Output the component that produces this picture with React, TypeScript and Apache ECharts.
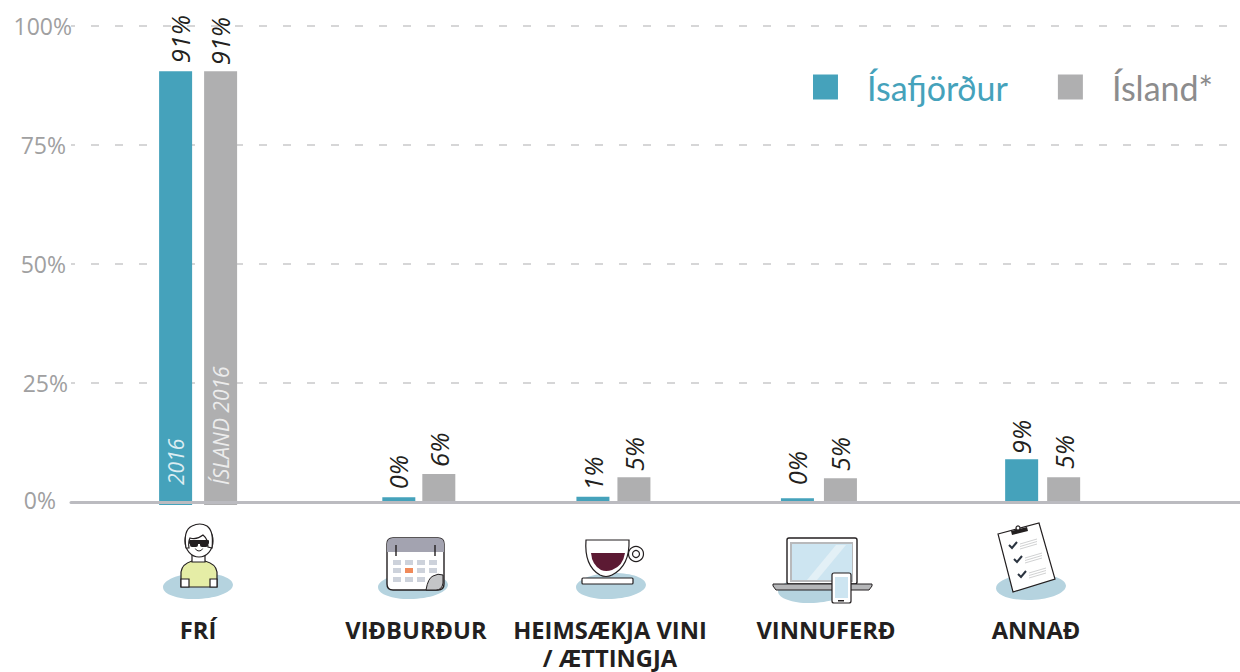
import React, { useEffect, useRef } from "react";
import * as echarts from "echarts";

const categories = ["FRÍ", "VIÐBURÐUR", "HEIMSÆKJA VINI\n/ ÆTTINGJA", "VINNUFERÐ", "ANNAÐ"];
const isafjordurValues = [90.5, 1.0, 1.1, 0.8, 9.0];
const islandValues = [90.5, 5.9, 5.2, 5.0, 5.2];
const isafjordurLabels = ["91%", "0%", "1%", "0%", "9%"];
const islandLabels = ["91%", "6%", "5%", "5%", "5%"];
const yTicks = [0, 25, 50, 75, 100];

// layout only (pixels relative to each category's slot on the x scale)
const tealShift = [-22, -9.8, -26.7, -33.2, -20];
const greyShift = [23, 30.2, 14.3, 9.8, 22];
const tealLabelNudge = [4, -1, 0, 0, -1];
const greyLabelNudge = [-1, 0, 0, 0, 0];
const tealLabelGap = [8, 8, 6, 13, 5];
const greyLabelGap = [6, 7, 6, 7, 8];
const labelCenters = [198, 416, 610, 826, 1036];

const TEAL = "#45a2bb";
const GREY = "#afafb0";
const INK = "#231f20";
const POOL = "#b5d3df";
const BODY_FONT = "'Open Sans', sans-serif";

const shapes: Record<string, string> = {
  rkTorso: "M181 587 L181 572 Q182 564 192 561 L205 561 Q216 564 217 572 L217 587 Z",
  rkHair: "M186 548 Q183 530 192 526 Q200 522 207 526 Q214 531 212 548 L208 547 Q208 539 203 535 Q197 540 190 538 Q188 542 189 548 Z",
  rkCup: "M586 540 L629 540 Q630 566 612 575 Q606 578 600 575 Q584 566 586 540 Z",
  rkWine: "M591 553 L625 553 Q623 566 612 570 Q606 572 601 570 Q592 565 591 553 Z",
  rkCurl: "M426 590 Q428 578 433 576 Q438 573 443 575 L443 583 Q442 590 436 590 Z",
  rkCalBody: "M393 538 L438 538 Q444 538 444 544 L444 584 Q444 590 438 590 L393 590 Q387 590 387 584 L387 544 Q387 538 393 538 Z",
  rkCalHead: "M393 538 L438 538 Q444 538 444 544 L444 552 L387 552 L387 544 Q387 538 393 538 Z",
  rkBase: "M773 584 L872 584 L872 586 L869 590 L776 590 L773 586 Z",
  rkGlare: "M807 580 L836 545 L846 545 L817 580 Z",
};
Object.keys(shapes).forEach((k) => {
  echarts.graphic.registerShape(k, echarts.graphic.extendPath(shapes[k], {}));
});

const stroke = { stroke: INK, lineWidth: 1.2 };
const pool = (cx: number, cy: number) => ({
  type: "ellipse", x: cx, y: cy, rotation: 0.04,
  shape: { cx: 0, cy: 0, rx: 35, ry: 13 }, style: { fill: POOL }, silent: true,
});
const rect = (x: number, y: number, w: number, h: number, style: any, r = 0) => ({
  type: "rect", shape: { x, y, width: w, height: h, r }, style,
});
const circle = (cx: number, cy: number, r: number, style: any) => ({
  type: "circle", shape: { cx, cy, r }, style,
});
const line = (x1: number, y1: number, x2: number, y2: number, style: any) => ({
  type: "line", shape: { x1, y1, x2, y2 }, style,
});
const custom = (type: string, style: any) => ({ type, style });

function personIcon() {
  return [
    pool(198, 586),
    custom("rkTorso", { fill: "#e5eda6", ...stroke }),
    rect(181, 579, 8, 8, { fill: "#fff", ...stroke }),
    rect(210, 579, 7, 8, { fill: "#fff", ...stroke }),
    rect(192, 552, 13, 10, { fill: "#fff", ...stroke }),
    { type: "ellipse", shape: { cx: 199, cy: 541, rx: 14, ry: 16 }, style: { fill: "#fff", ...stroke } },
    custom("rkHair", { fill: "#fff", ...stroke }),
    rect(189, 540, 20, 4, { fill: INK }, 1),
    rect(190, 541, 8, 6, { fill: INK }, 2),
    rect(200, 541, 8, 6, { fill: INK }, 2),
    { type: "arc", shape: { cx: 199, cy: 547, r: 4, startAngle: 0.4, endAngle: 2.74 }, style: { stroke: INK, lineWidth: 1, fill: "none" } },
  ];
}

function calendarIcon() {
  const out: any[] = [pool(413, 586), custom("rkCalBody", { fill: "#fff", stroke: INK, lineWidth: 1.4 }), custom("rkCalHead", { fill: "#a3a3b0" })];
  const xs = [393, 405, 417, 429];
  const ys = [560, 568, 577];
  ys.forEach((y, r) => xs.forEach((x, c) => {
    if (r === 2 && c === 3) return;
    out.push(rect(x, y, 8, 5, { fill: r === 1 && c === 1 ? "#f08a5a" : "#cdd2db" }));
  }));
  out.push(line(396, 545, 396, 556, { stroke: INK, lineWidth: 1.4 }));
  out.push(line(435, 545, 435, 556, { stroke: INK, lineWidth: 1.4 }));
  out.push(custom("rkCurl", { fill: "#c4c5c7", stroke: INK, lineWidth: 1 }));
  return out;
}

function cupIcon() {
  return [
    pool(611, 586),
    circle(636, 554, 7.5, { fill: "#fff", ...stroke }),
    circle(636, 554, 3.5, { fill: "#fff", ...stroke }),
    custom("rkCup", { fill: "#fff", ...stroke }),
    custom("rkWine", { fill: "#5c1a33" }),
    rect(582, 578, 51, 6, { fill: "#fff", ...stroke }, 1),
  ];
}

function laptopIcon() {
  return [
    pool(813, 590),
    rect(787, 538, 70, 46, { fill: "#fff", stroke: INK, lineWidth: 1.4 }, 2),
    rect(790, 542, 63, 40, { fill: "#b8b9bb" }),
    rect(792, 544, 60, 36, { fill: "#cde5f1" }),
    custom("rkGlare", { fill: "#e3f0f6" }),
    custom("rkBase", { fill: "#b5b6b8", stroke: INK, lineWidth: 1 }),
    rect(832, 573, 19, 30, { fill: "#fff", stroke: INK, lineWidth: 1.2 }, 2),
    rect(835, 577, 13, 21, { fill: "#cde5f1" }),
    rect(838, 600, 6, 1.5, { fill: INK }),
  ];
}

function clipboardIcon() {
  const out: any[] = [
    pool(1031, 587),
    { type: "polygon", shape: { points: [[998, 534], [1039, 523], [1055, 579], [1013, 592]] }, style: { fill: "#fff", stroke: INK, lineWidth: 1.2 } },
    { type: "polygon", shape: { points: [[1011, 531], [1027, 527], [1028, 531], [1012, 535]] }, style: { fill: INK } },
    circle(1018, 528, 2, { fill: "#fff", ...stroke }),
  ];
  [[1012, 546], [1017, 560], [1021, 575]].forEach(([x, y]) => {
    out.push({ type: "polyline", shape: { points: [[x - 3, y - 1], [x, y + 2], [x + 5, y - 4]] }, style: { stroke: "#2b3440", lineWidth: 2, fill: "none" } });
    [0, 1, 2].forEach((i) => {
      out.push(line(x + 8, y - 2 + i * 2.5, x + 25, y - 7 + i * 2.5, { stroke: "#c4c5c7", lineWidth: 0.8 }));
    });
  });
  return out;
}

function barSeries(
  name: string,
  color: string,
  values: number[],
  labels: string[],
  shift: number[],
  nudge: number[],
  gap: number[],
  inside: string,
  insideColor: string,
) {
  return {
    type: "custom",
    name,
    itemStyle: { color },
    data: values.map((v, i) => [i, v]),
    encode: { x: 0, y: 1 },
    clip: false,
    z: 3,
    renderItem: (_p: any, api: any) => {
      const i = api.value(0);
      const [cx, top] = api.coord([i, api.value(1)]);
      const base = api.coord([i, 0])[1];
      const bx = cx + shift[i];
      const overshoot = i === 0 ? 3 : 0;
      const children: any[] = [
        {
          type: "rect",
          shape: { x: bx - 16.5, y: top, width: 33, height: base - top + overshoot },
          style: { fill: color },
        },
        {
          type: "text",
          x: bx + nudge[i],
          y: top - gap[i],
          rotation: Math.PI / 2,
          style: {
            text: labels[i],
            textAlign: "left",
            textVerticalAlign: "middle",
            fill: INK,
            font: `italic 400 25.5px ${BODY_FONT}`,
          },
        },
      ];
      if (i === 0) {
        children.push({
          type: "text",
          x: bx,
          y: base - 17,
          rotation: Math.PI / 2,
          style: {
            text: inside,
            textAlign: "left",
            textVerticalAlign: "middle",
            fill: insideColor,
            font: `italic 400 21px ${BODY_FONT}`,
          },
        });
      }
      return { type: "group", children };
    },
  };
}

const tickPad: Record<number, number> = { 100: 0, 75: 6, 50: 6, 25: 4, 0: 16 };

export default function App() {
  const ref = useRef<HTMLDivElement>(null);
  useEffect(() => {
    const chart = echarts.init(ref.current!, undefined, { renderer: "svg" });
    const categoryTexts = categories.map((c, i) => ({
      type: "text",
      style: {
        x: labelCenters[i],
        y: 616,
        text: c,
        textAlign: "center",
        fill: INK,
        font: `700 23.7px ${BODY_FONT}`,
        lineHeight: 28,
      },
    }));
    chart.setOption({
      animation: false,
      backgroundColor: "#fff",
      grid: { left: 71, right: 0, top: 26, height: 476 },
      legend: {
        right: 22,
        top: 65,
        icon: "rect",
        itemWidth: 25,
        itemHeight: 25,
        itemGap: 50,
        selectedMode: false,
        data: [
          { name: "Ísafjörður", textStyle: { color: TEAL } },
          { name: "Ísland*", textStyle: { color: "#8c8c8d" } },
        ],
        textStyle: {
          fontFamily: "Lato, sans-serif",
          fontSize: 34,
          padding: [0, 0, 0, 24],
        },
      },
      xAxis: {
        type: "value",
        min: -0.6,
        max: 4.94,
        z: 5,
        axisLine: { show: true, onZero: true, lineStyle: { color: "#bbbbc0", width: 3 } },
        axisTick: { show: false },
        axisLabel: { show: false },
        splitLine: { show: false },
      },
      yAxis: {
        type: "value",
        min: 0,
        max: 100,
        interval: 25,
        axisLine: { show: false },
        axisTick: { show: false },
        axisLabel: {
          margin: -1,
          formatter: (v: number) => (yTicks.includes(v) ? `{t${v}|${v}%}` : ""),
          rich: Object.fromEntries(
            yTicks.map((t) => [
              `t${t}`,
              { color: "#a0a0a1", fontSize: 23, fontFamily: BODY_FONT, fontWeight: 400, padding: [t === 0 ? -4 : 0, tickPad[t], 0, 0] },
            ]),
          ),
        },
        splitLine: {
          show: true,
          lineStyle: { color: "#c9c9ca", width: 1.5, type: [8, 16], dashOffset: 4 },
        },
      },
      series: [
        barSeries("Ísafjörður", TEAL, isafjordurValues, isafjordurLabels, tealShift, tealLabelNudge, tealLabelGap, "2016", "#dcedf2"),
        barSeries("Ísland*", GREY, islandValues, islandLabels, greyShift, greyLabelNudge, greyLabelGap, "ÍSLAND 2016", "#ececec"),
      ],
      graphic: [
        ...personIcon(),
        ...calendarIcon(),
        ...cupIcon(),
        ...laptopIcon(),
        ...clipboardIcon(),
        ...categoryTexts,
      ],
    });
    return () => chart.dispose();
  }, []);
  return <div ref={ref} style={{ position: "absolute", left: 0, top: 0, width: 1240, height: 672 }} />;
}
